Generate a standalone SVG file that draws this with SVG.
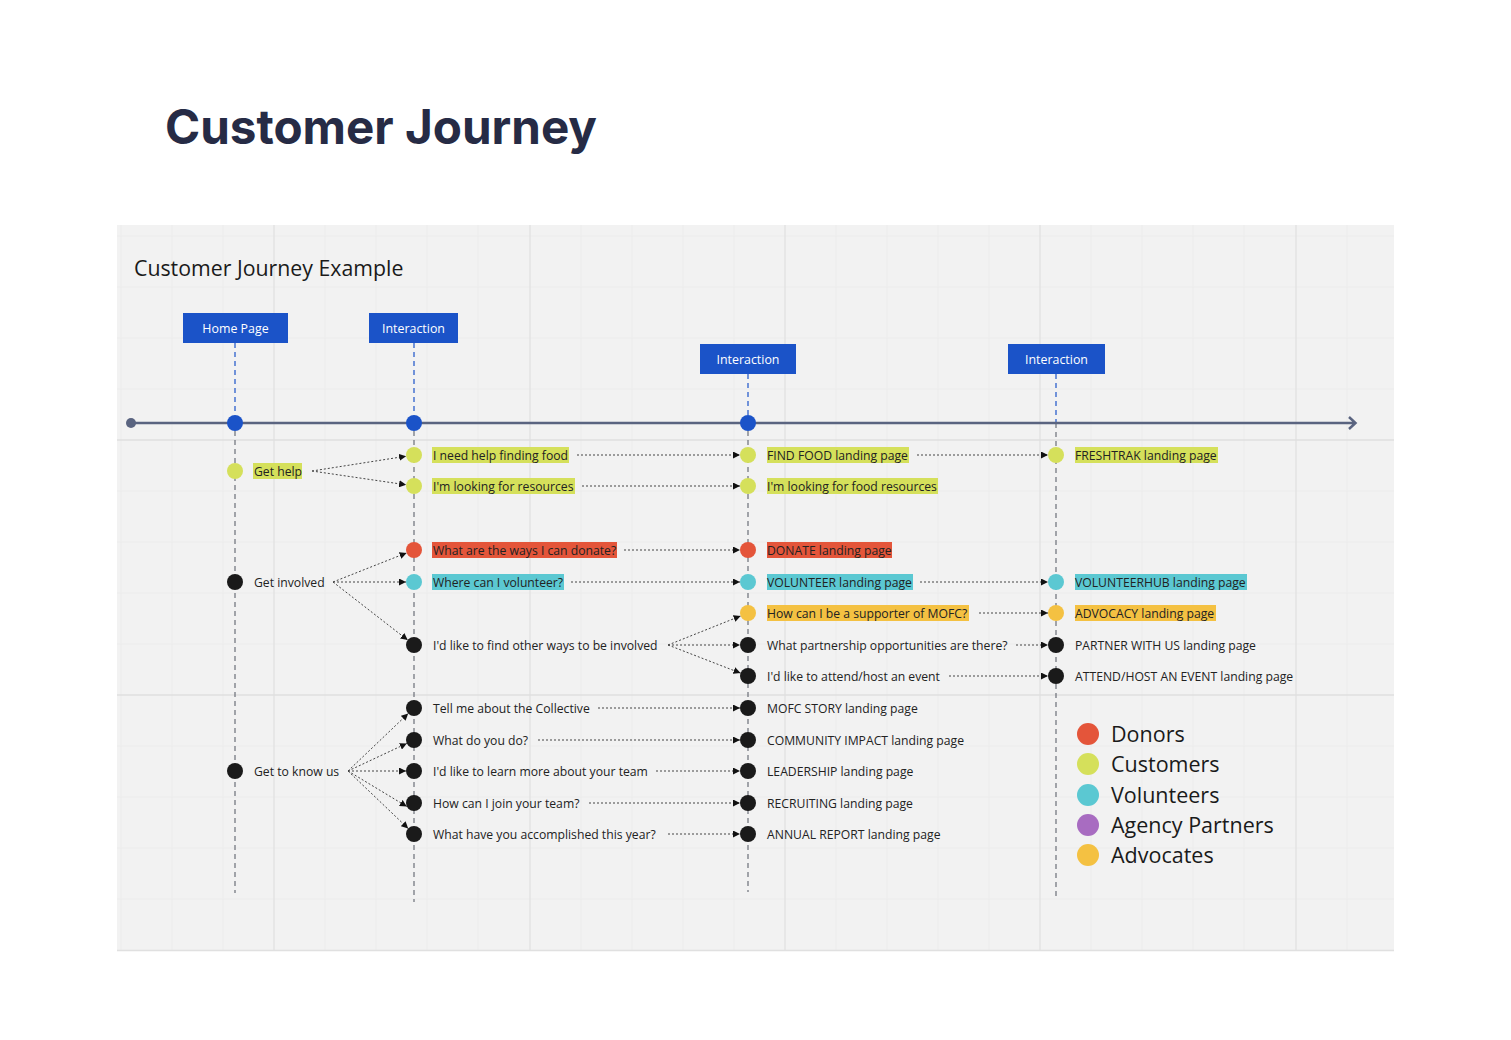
<svg xmlns="http://www.w3.org/2000/svg" width="1511" height="1040" viewBox="0 0 1511 1040">
<style>
.t{font-family:"Open Sans","Liberation Sans",sans-serif;font-size:12.2px;fill:#222}
.hd{font-family:"Open Sans","Liberation Sans",sans-serif;font-size:12.4px;fill:#fff;text-anchor:middle}
.lg{font-family:"Open Sans","Liberation Sans",sans-serif;font-size:21.5px;fill:#1a1a1a}
.hbox{fill:#1b53c8}
.bl{stroke:#1b53c8;stroke-width:1.2;stroke-dasharray:5 4;fill:none}
.col{stroke:#6b6f78;stroke-width:1.2;stroke-dasharray:5 4;fill:none}
.c{stroke:#444;stroke-width:1;stroke-dasharray:2 2;fill:none;marker-end:url(#ah)}
.g{fill:#d5e05b}.r{fill:#e4553a}.tl{fill:#5bc8d2}.y{fill:#f4c142}.p{fill:#a86cc1}.k{fill:#1a1a1a}.bd{fill:#1b53c8}
</style>
<defs>
<marker id="ah" viewBox="0 0 8 8" refX="8" refY="4" markerWidth="7" markerHeight="7" markerUnits="userSpaceOnUse" orient="auto">
<path d="M0,0 L8,4 L0,8 z" fill="#111"/>
</marker>
</defs>
<rect width="1511" height="1040" fill="#fff"/>
<text x="165" y="144" font-family="Inter,'Liberation Sans',sans-serif" font-weight="700" font-size="48" fill="#262b45" textLength="432" lengthAdjust="spacingAndGlyphs">Customer Journey</text>
<g id="panel">
<rect x="117" y="225" width="1277" height="726" fill="#f2f2f2"/>
<path d="M121,225V951M172,225V951M223,225V951M325,225V951M376,225V951M427,225V951M478,225V951M581,225V951M632,225V951M683,225V951M734,225V951M836,225V951M887,225V951M938,225V951M989,225V951M1091,225V951M1142,225V951M1193,225V951M1244,225V951M1347,225V951M117,236H1394M117,287H1394M117,338H1394M117,389H1394M117,491H1394M117,542H1394M117,593H1394M117,644H1394M117,746H1394M117,797H1394M117,848H1394M117,899H1394" stroke="#ececec" stroke-width="1"/>
<path d="M274,225V951M530,225V951M785,225V951M1040,225V951M1296,225V951M117,440H1394M117,695H1394M117,950.5H1394" stroke="#e0e0e0" stroke-width="1.3"/>
<text x="134" y="276" font-family="'Open Sans','Liberation Sans',sans-serif" font-size="21.3" fill="#1a1a1a">Customer Journey Example</text>
</g>
<g id="columns">
<path class="bl" d="M235,343V415M414,343V415M748,374V415M1056,374V423"/>
<path class="col" d="M235,431V893M414,431V902M748,431V892M1056,423V897"/>
</g>
<g id="timeline">
<path d="M131,423H1355M1349,417L1355.5,423L1349,429" stroke="#5a6480" stroke-width="2.5" fill="none"/>
<circle cx="131" cy="423" r="5" fill="#5a6480"/>
<circle class="bd" cx="235" cy="423" r="8"/>
<circle class="bd" cx="414" cy="423" r="8"/>
<circle class="bd" cx="748" cy="423" r="8"/>
</g>
<g id="hdr-home"><rect class="hbox" x="183" y="313" width="105" height="30"/><text class="hd" x="235.5" y="332.5">Home Page</text></g>
<g id="hdr-int1"><rect class="hbox" x="369" y="313" width="89" height="30"/><text class="hd" x="413.5" y="332.5">Interaction</text></g>
<g id="hdr-int2"><rect class="hbox" x="700" y="344" width="96" height="30"/><text class="hd" x="748" y="363.5">Interaction</text></g>
<g id="hdr-int3"><rect class="hbox" x="1008" y="344" width="97" height="30"/><text class="hd" x="1056.5" y="363.5">Interaction</text></g>
<g id="connectors">
<path class="c" d="M312,471L406.1,456.2"/>
<path class="c" d="M312,471L406.1,484.8"/>
<path class="c" d="M333,582L406.6,552.9"/>
<path class="c" d="M333,582L406,582"/>
<path class="c" d="M333,582L407.7,640.1"/>
<path class="c" d="M668,645L740.6,616"/>
<path class="c" d="M668,645L740,645"/>
<path class="c" d="M668,645L740.5,673.1"/>
<path class="c" d="M348,771L408.2,713.5"/>
<path class="c" d="M348,771L406.8,743.4"/>
<path class="c" d="M348,771L406,771"/>
<path class="c" d="M348,771L406.8,806.5"/>
<path class="c" d="M348,771L408.2,828.5"/>
<path class="c" d="M577,455H740"/>
<path class="c" d="M582,486H740"/>
<path class="c" d="M624,550H740"/>
<path class="c" d="M571,582H740"/>
<path class="c" d="M598,708H740"/>
<path class="c" d="M538,740H740"/>
<path class="c" d="M656,771H740"/>
<path class="c" d="M589,803H740"/>
<path class="c" d="M668,834H740"/>
<path class="c" d="M917,455H1048"/>
<path class="c" d="M920,582H1048"/>
<path class="c" d="M979,613H1048"/>
<path class="c" d="M1016,645H1048"/>
<path class="c" d="M949,676H1048"/>
</g>
<g id="n-gethelp"><circle class="g" cx="235" cy="471" r="8"/><rect class="g" x="253" y="463" width="49" height="16"/><text class="t" x="254" y="475.5">Get help</text></g>
<g id="n-getinvolved"><circle class="k" cx="235" cy="582" r="8"/><text class="t" x="254" y="586.5">Get involved</text></g>
<g id="n-getknow"><circle class="k" cx="235" cy="771" r="8"/><text class="t" x="254" y="775.5">Get to know us</text></g>
<g id="n-b1"><circle class="g" cx="414" cy="455" r="8"/><rect class="g" x="432" y="447" width="137" height="16"/><text class="t" x="433" y="459.5">I need help finding food</text></g>
<g id="n-b2"><circle class="g" cx="414" cy="486" r="8"/><rect class="g" x="432" y="478" width="143" height="16"/><text class="t" x="433" y="490.5">I'm looking for resources</text></g>
<g id="n-b3"><circle class="r" cx="414" cy="550" r="8"/><rect class="r" x="432" y="542" width="185" height="16"/><text class="t" x="433" y="554.5">What are the ways I can donate?</text></g>
<g id="n-b4"><circle class="tl" cx="414" cy="582" r="8"/><rect class="tl" x="432" y="574" width="132" height="16"/><text class="t" x="433" y="586.5">Where can I volunteer?</text></g>
<g id="n-b5"><circle class="k" cx="414" cy="645" r="8"/><text class="t" x="433" y="649.5">I'd like to find other ways to be involved</text></g>
<g id="n-b6"><circle class="k" cx="414" cy="708" r="8"/><text class="t" x="433" y="712.5">Tell me about the Collective</text></g>
<g id="n-b7"><circle class="k" cx="414" cy="740" r="8"/><text class="t" x="433" y="744.5">What do you do?</text></g>
<g id="n-b8"><circle class="k" cx="414" cy="771" r="8"/><text class="t" x="433" y="775.5">I'd like to learn more about your team</text></g>
<g id="n-b9"><circle class="k" cx="414" cy="803" r="8"/><text class="t" x="433" y="807.5">How can I join your team?</text></g>
<g id="n-b10"><circle class="k" cx="414" cy="834" r="8"/><text class="t" x="433" y="838.5">What have you accomplished this year?</text></g>
<g id="n-c1"><circle class="g" cx="748" cy="455" r="8"/><rect class="g" x="767" y="447" width="142" height="16"/><text class="t" x="767" y="459.5">FIND FOOD landing page</text></g>
<g id="n-c2"><circle class="g" cx="748" cy="486" r="8"/><rect class="g" x="767" y="478" width="171" height="16"/><text class="t" x="767" y="490.5">I'm looking for food resources</text></g>
<g id="n-c3"><circle class="r" cx="748" cy="550" r="8"/><rect class="r" x="767" y="542" width="125" height="16"/><text class="t" x="767" y="554.5">DONATE landing page</text></g>
<g id="n-c4"><circle class="tl" cx="748" cy="582" r="8"/><rect class="tl" x="767" y="574" width="146" height="16"/><text class="t" x="767" y="586.5">VOLUNTEER landing page</text></g>
<g id="n-c5"><circle class="y" cx="748" cy="613" r="8"/><rect class="y" x="767" y="605" width="202" height="16"/><text class="t" x="767" y="617.5">How can I be a supporter of MOFC?</text></g>
<g id="n-c6"><circle class="k" cx="748" cy="645" r="8"/><text class="t" x="767" y="649.5">What partnership opportunities are there?</text></g>
<g id="n-c7"><circle class="k" cx="748" cy="676" r="8"/><text class="t" x="767" y="680.5">I'd like to attend/host an event</text></g>
<g id="n-c8"><circle class="k" cx="748" cy="708" r="8"/><text class="t" x="767" y="712.5">MOFC STORY landing page</text></g>
<g id="n-c9"><circle class="k" cx="748" cy="740" r="8"/><text class="t" x="767" y="744.5">COMMUNITY IMPACT landing page</text></g>
<g id="n-c10"><circle class="k" cx="748" cy="771" r="8"/><text class="t" x="767" y="775.5">LEADERSHIP landing page</text></g>
<g id="n-c11"><circle class="k" cx="748" cy="803" r="8"/><text class="t" x="767" y="807.5">RECRUITING landing page</text></g>
<g id="n-c12"><circle class="k" cx="748" cy="834" r="8"/><text class="t" x="767" y="838.5">ANNUAL REPORT landing page</text></g>
<g id="n-d1"><circle class="g" cx="1056" cy="455" r="8"/><rect class="g" x="1075" y="447" width="143" height="16"/><text class="t" x="1075" y="459.5">FRESHTRAK landing page</text></g>
<g id="n-d2"><circle class="tl" cx="1056" cy="582" r="8"/><rect class="tl" x="1075" y="574" width="172" height="16"/><text class="t" x="1075" y="586.5">VOLUNTEERHUB landing page</text></g>
<g id="n-d3"><circle class="y" cx="1056" cy="613" r="8"/><rect class="y" x="1075" y="605" width="141" height="16"/><text class="t" x="1075" y="617.5">ADVOCACY landing page</text></g>
<g id="n-d4"><circle class="k" cx="1056" cy="645" r="8"/><text class="t" x="1075" y="649.5">PARTNER WITH US landing page</text></g>
<g id="n-d5"><circle class="k" cx="1056" cy="676" r="8"/><text class="t" x="1075" y="680.5">ATTEND/HOST AN EVENT landing page</text></g>
<g id="legend">
<circle class="r" cx="1088" cy="734" r="11"/><text class="lg" x="1111" y="742">Donors</text>
<circle class="g" cx="1088" cy="764" r="11"/><text class="lg" x="1111" y="772">Customers</text>
<circle class="tl" cx="1088" cy="795" r="11"/><text class="lg" x="1111" y="803">Volunteers</text>
<circle class="p" cx="1088" cy="825" r="11"/><text class="lg" x="1111" y="833">Agency Partners</text>
<circle class="y" cx="1088" cy="855" r="11"/><text class="lg" x="1111" y="863">Advocates</text>
</g>
</svg>
